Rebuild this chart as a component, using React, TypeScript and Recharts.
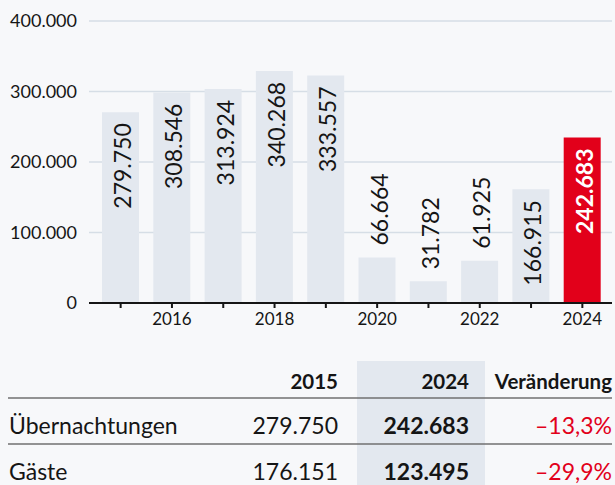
import { Bar, BarChart, CartesianGrid, Cell, LabelList, XAxis, YAxis } from "recharts";

const years = [2015, 2016, 2017, 2018, 2019, 2020, 2021, 2022, 2023, 2024];
const overnightStays = [279750, 308546, 313924, 340268, 333557, 66664, 31782, 61925, 166915, 242683];
const yTicks = [0, 100000, 200000, 300000, 400000];

const tableHeaders = ["2015", "2024", "Veränderung"];
const tableRows = ["Übernachtungen", "Gäste"];
const values2015 = [279750, 176151];
const values2024 = [242683, 123495];
const changes = ["–13,3%", "–29,9%"];

const FONT = "Lato, 'Noto Sans', sans-serif";
const BG = "#f7f8fa";
const BAR = "#e3e8ef";
const RED = "#e2001a";
const INK = "#151515";

const fmt = (n: number) => String(n).replace(/\B(?=(\d{3})+(?!\d))/g, ".");

const data = years.map((year, i) => ({ year, value: overnightStays[i] }));

function BarLabel(props: any) {
  const { x, y, width, height, value, index } = props;
  const cx = x + width / 2 + 1.5;
  const last = index === years.length - 1;
  const fits = height > 100;
  return (
    <text
      transform={`translate(${cx},${fits ? y + 11 : y - 12}) rotate(-90)`}
      textAnchor={fits ? "end" : "start"}
      dominantBaseline="central"
      fill={last ? "#fff" : INK}
      fontWeight={last ? 700 : 400}
      fontSize={23}
      fontFamily={FONT}
    >
      {fmt(value)}
    </text>
  );
}

function SummaryTable() {
  const colRight = [338, 469, 612];
  const baselines = [434, 480];
  return (
    <svg width={615} height={485} style={{ position: "absolute", left: 0, top: 0, pointerEvents: "none" }}>
      <rect x={357} y={361} width={128} height={124} fill={BAR} />
      {tableHeaders.map((h, i) => (
        <text key={h} x={colRight[i]} y={389} textAnchor="end" fontSize={20.5} fontWeight={700} fontFamily={FONT} fill={INK}>
          {h}
        </text>
      ))}
      <line x1={8} x2={612} y1={398} y2={398} stroke="#707070" strokeWidth={1.5} />
      <line x1={8} x2={612} y1={444} y2={444} stroke="#707070" strokeWidth={1.5} />
      {tableRows.map((row, i) => (
        <g key={row} fontFamily={FONT} fontSize={23}>
          <text x={9} y={baselines[i]} fill={INK}>
            {row}
          </text>
          <text x={colRight[0]} y={baselines[i]} textAnchor="end" fill={INK}>
            {fmt(values2015[i])}
          </text>
          <text x={colRight[1]} y={baselines[i]} textAnchor="end" fill={INK} fontWeight={700}>
            {fmt(values2024[i])}
          </text>
          <text x={colRight[2]} y={baselines[i]} textAnchor="end" fill={RED}>
            {changes[i]}
          </text>
        </g>
      ))}
    </svg>
  );
}

export default function App() {
  return (
    <div style={{ position: "absolute", left: 0, top: 0, width: 615, height: 485, background: BG, overflow: "hidden" }}>
      <BarChart width={615} height={340} data={data} margin={{ top: 21, right: 3, bottom: 0, left: 0 }} barSize={37}>
        <CartesianGrid vertical={false} stroke="#d6dee6" strokeWidth={1.5} />
        <XAxis
          dataKey="year"
          interval={0}
          height={37}
          padding={{ left: 6, right: 4 }}
          tickFormatter={(v: any, i: number) => (i % 2 === 1 ? String(v) : "")}
          axisLine={{ stroke: INK, strokeWidth: 2 }}
          tickLine={{ stroke: INK, strokeWidth: 2 }}
          tickSize={5}
          tickMargin={5}
          tick={{ fill: INK, fontSize: 17, fontFamily: FONT }}
        />
        <YAxis
          domain={[0, 400000]}
          allowDataOverflow
          ticks={yTicks}
          width={89}
          axisLine={false}
          tickLine={false}
          tickSize={0}
          tickMargin={12}
          tickFormatter={fmt}
          tick={{ fill: INK, fontSize: 18, fontFamily: FONT }}
        />
        {/* the source draws its bars on a slightly compressed scale */}
        <YAxis yAxisId="bars" hide domain={[0, 413500]} allowDataOverflow />
        <Bar dataKey="value" yAxisId="bars" isAnimationActive={false}>
          {data.map((d, i) => (
            <Cell key={d.year} fill={i === data.length - 1 ? RED : BAR} />
          ))}
          <LabelList dataKey="value" content={<BarLabel />} />
        </Bar>
      </BarChart>
      <SummaryTable />
    </div>
  );
}
